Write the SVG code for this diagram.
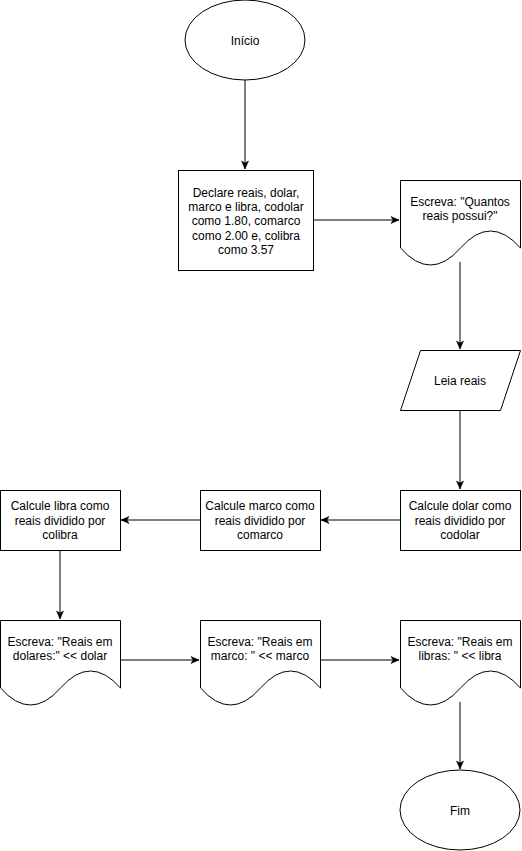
<svg xmlns="http://www.w3.org/2000/svg" width="522" height="851" viewBox="0 0 522 851">
<style>
.s{fill:#fff;stroke:#000;stroke-width:1}
.t{font-family:"Liberation Sans",Arial,sans-serif;font-size:12px;fill:#000;text-anchor:middle}
.c{fill:none;stroke:#000;stroke-width:1}
</style>
<defs>
<marker id="a" markerUnits="userSpaceOnUse" markerWidth="10" markerHeight="10" viewBox="0 0 10 10" refX="9" refY="5" orient="auto">
<path d="M1,1.5 L9,5 L1,8.5 L3,5 Z" fill="#000" stroke="#000" stroke-width="0.5"/>
</marker>
</defs>
<rect width="522" height="851" fill="#fff"/>
<g id="connectors">
<path class="c" d="M245,80 V169" marker-end="url(#a)"/>
<path class="c" d="M314,220 H399" marker-end="url(#a)"/>
<path class="c" d="M460,262 V349" marker-end="url(#a)"/>
<path class="c" d="M460,410 V489" marker-end="url(#a)"/>
<path class="c" d="M400,520 H321" marker-end="url(#a)"/>
<path class="c" d="M200,520 H121" marker-end="url(#a)"/>
<path class="c" d="M60,550 V619" marker-end="url(#a)"/>
<path class="c" d="M120,660 H199" marker-end="url(#a)"/>
<path class="c" d="M320,660 H399" marker-end="url(#a)"/>
<path class="c" d="M460,702 V769" marker-end="url(#a)"/>
</g>
<g id="inicio">
<ellipse class="s" cx="245" cy="40" rx="60" ry="40"/>
<text class="t" x="245" y="45">Início</text>
</g>
<g id="declare">
<rect class="s" x="178.5" y="170.5" width="135" height="100"/>
<text class="t" x="246" y="197">Declare reais, dolar,</text>
<text class="t" x="246" y="211">marco e libra, codolar</text>
<text class="t" x="246" y="225">como 1.80, comarco</text>
<text class="t" x="246" y="240">como 2.00 e, colibra</text>
<text class="t" x="246" y="254">como 3.57</text>
</g>
<g id="escreva-quantos">
<path class="s" d="M400.5,180.5 H520.5 V248 Q490.5,214 460.5,248 Q430.5,282 400.5,248 Z"/>
<text class="t" x="460" y="206">Escreva: "Quantos</text>
<text class="t" x="460" y="220">reais possui?"</text>
</g>
<g id="leia">
<path class="s" d="M420.5,350.5 H520.5 L500.5,410.5 H400.5 Z"/>
<text class="t" x="460" y="385">Leia reais</text>
</g>
<g id="calc-dolar">
<rect class="s" x="400.5" y="490.5" width="120" height="60"/>
<text class="t" x="460" y="510">Calcule dolar como</text>
<text class="t" x="460" y="525">reais dividido por</text>
<text class="t" x="460" y="539">codolar</text>
</g>
<g id="calc-marco">
<rect class="s" x="200.5" y="490.5" width="120" height="60"/>
<text class="t" x="260" y="510">Calcule marco como</text>
<text class="t" x="260" y="525">reais dividido por</text>
<text class="t" x="260" y="539">comarco</text>
</g>
<g id="calc-libra">
<rect class="s" x="0.5" y="490.5" width="120" height="60"/>
<text class="t" x="60" y="510">Calcule libra como</text>
<text class="t" x="60" y="525">reais dividido por</text>
<text class="t" x="60" y="539">colibra</text>
</g>
<g id="escreva-dolares">
<path class="s" d="M0.5,620.5 H120.5 V688 Q90.5,654 60.5,688 Q30.5,722 0.5,688 Z"/>
<text class="t" x="60" y="646">Escreva: "Reais em</text>
<text class="t" x="60" y="660">dolares:" &lt;&lt; dolar</text>
</g>
<g id="escreva-marco">
<path class="s" d="M200.5,620.5 H320.5 V688 Q290.5,654 260.5,688 Q230.5,722 200.5,688 Z"/>
<text class="t" x="260" y="646">Escreva: "Reais em</text>
<text class="t" x="260" y="660">marco: " &lt;&lt; marco</text>
</g>
<g id="escreva-libras">
<path class="s" d="M400.5,620.5 H520.5 V688 Q490.5,654 460.5,688 Q430.5,722 400.5,688 Z"/>
<text class="t" x="460" y="646">Escreva: "Reais em</text>
<text class="t" x="460" y="660">libras: " &lt;&lt; libra</text>
</g>
<g id="fim">
<ellipse class="s" cx="460" cy="810" rx="60" ry="40"/>
<text class="t" x="460" y="815">Fim</text>
</g>
</svg>
